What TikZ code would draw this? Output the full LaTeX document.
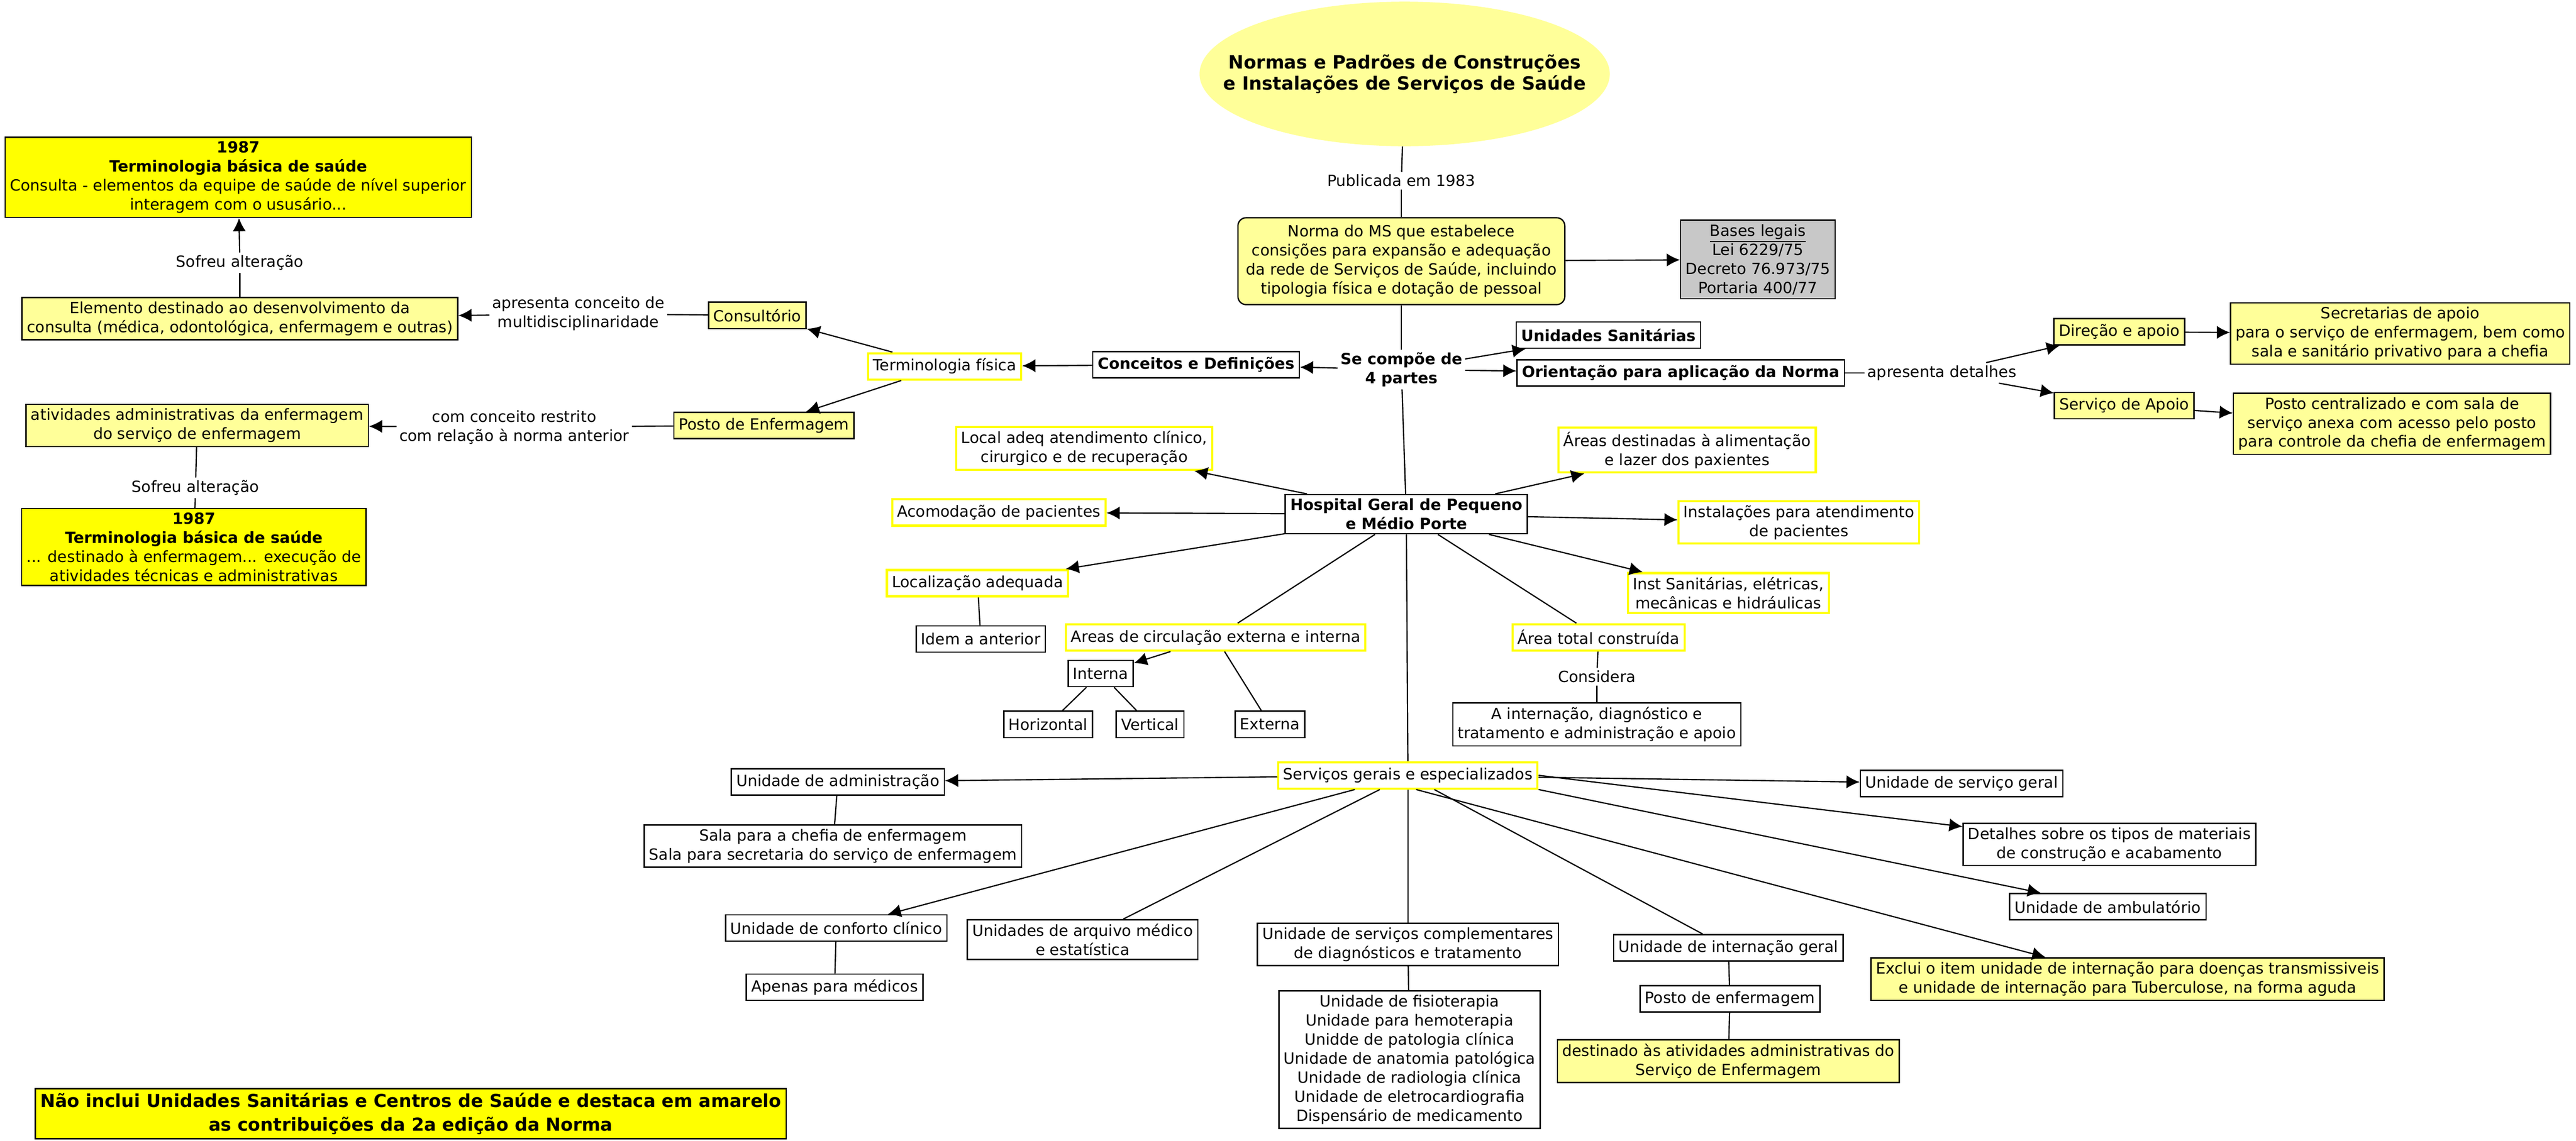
\documentclass[tikz,border=0pt]{standalone}
\usepackage{fontspec}
\setmainfont{DejaVu Sans}
\usetikzlibrary{arrows.meta,shapes.geometric}
\tikzset{>={Latex[width=8pt,length=8pt]}}
\definecolor{paleyellow}{RGB}{255,255,153}
\definecolor{hiyellow}{RGB}{255,255,0}
\definecolor{legalgray}{RGB}{200,200,200}
\newcommand\mapsize{\fontsize{9.4}{11.6}\selectfont}
\tikzset{
  concept/.style={draw=black,fill=white,line width=0.8pt,inner xsep=3pt,inner ysep=2.5pt,align=center,minimum height=16pt},
  pale/.style={concept,fill=paleyellow},
  hilite/.style={concept,fill=hiyellow},
  yframe/.style={concept,draw=hiyellow,line width=1.3pt},
  phrase/.style={fill=white,inner sep=1.5pt,align=center},
  link/.style={line width=0.75pt},
}

\begin{document}
\begin{tikzpicture}[x=1pt,y=-1pt,font=\mapsize]
		\useasboundingbox (0,0) rectangle (1568,694.5);
		% title and the norm itself
		\node[ellipse,fill=paleyellow,minimum width=240pt,minimum height=88pt,inner xsep=-22pt,inner ysep=0pt,align=center,font=\fontsize{11.1}{13}\selectfont\bfseries] (norms) at (855,45) {Normas e Padrões de Construções\\e Instalações de Serviços de Saúde};
		\node[phrase] (pub) at (853,110) {Publicada em 1983};
		\node[pale,rounded corners=5pt,inner xsep=5pt,inner ysep=4.5pt] (norma) at (853,159) {Norma do MS que estabelece\\consições para expansão e adequação\\da rede de Serviços de Saúde, incluindo\\tipologia física e dotação de pessoal};
		\node[concept,fill=legalgray] (bases) at (1070,158) {\underline{Bases legais}\\Lei 6229/75\\Decreto 76.973/75\\Portaria 400/77};
		% the 4 parts
		\node[phrase,font=\mapsize\bfseries] (parts) at (853,225) {Se compõe de\\4 partes};
		\node[concept,font=\mapsize\bfseries] (conc) at (728,222) {Conceitos e Definições};
		\node[concept,font=\mapsize\bfseries] (sanit) at (979,204) {Unidades Sanitárias};
		\node[concept,font=\mapsize\bfseries] (orient) at (1023,227) {Orientação para aplicação da Norma};
		\node[concept,font=\mapsize\bfseries] (hosp) at (856,313) {Hospital Geral de Pequeno\\e Médio Porte};
		% orientation details
		\node[phrase] (detal) at (1182,227) {apresenta detalhes};
		\node[pale] (direc) at (1290,202) {Direção e apoio};
		\node[pale] (secret) at (1461,203) {Secretarias de apoio\\para o serviço de enfermagem, bem como\\sala e sanitário privativo para a chefia};
		\node[pale] (servap) at (1293,247) {Serviço de Apoio};
		\node[pale] (postoc) at (1456,258) {Posto centralizado e com sala de\\serviço anexa com acesso pelo posto\\para controle da chefia de enfermagem};
		% physical terminology
		\node[yframe] (termf) at (575,223) {Terminologia física};
		\node[pale] (consult) at (461,192) {Consultório};
		\node[pale] (postoE) at (465,259) {Posto de Enfermagem};
		\node[phrase] (multi) at (352,191) {apresenta conceito de\\multidisciplinaridade};
		\node[pale] (elem) at (146,194) {Elemento destinado ao desenvolvimento da\\consulta (médica, odontológica, enfermagem e outras)};
		\node[phrase] (alt1) at (146,160) {Sofreu alteração};
		\node[hilite] (tb1) at (145,108) {\textbf{1987}\\\textbf{Terminologia básica de saúde}\\Consulta - elementos da equipe de saúde de nível superior\\interagem com o ususário...};
		\node[phrase] (restr) at (313,260) {com conceito restrito\\com relação à norma anterior};
		\node[pale] (ativ) at (120,259) {atividades administrativas da enfermagem\\do serviço de enfermagem};
		\node[phrase] (alt2) at (119,297) {Sofreu alteração};
		\node[hilite] (tb2) at (118,333) {\textbf{1987}\\\textbf{Terminologia básica de saúde}\\... destinado à enfermagem... execução de\\atividades técnicas e administrativas};
		% hospital items
		\node[yframe] (local) at (660,273) {Local adeq atendimento clínico,\\cirurgico e de recuperação};
		\node[yframe] (acomod) at (608,312) {Acomodação de pacientes};
		\node[yframe] (localiz) at (595,355) {Localização adequada};
		\node[concept] (idem) at (597,389) {Idem a anterior};
		\node[yframe] (circ) at (740,388) {Areas de circulação externa e interna};
		\node[concept] (interna) at (670,410) {Interna};
		\node[concept] (horiz) at (638,441) {Horizontal};
		\node[concept] (vert) at (700,441) {Vertical};
		\node[concept] (externa) at (773,441) {Externa};
		\node[yframe] (alim) at (1027,274) {Áreas destinadas à alimentação\\e lazer dos paxientes};
		\node[yframe] (instal) at (1095,318) {Instalações para atendimento\\de pacientes};
		\node[yframe] (instsan) at (1052,361) {Inst Sanitárias, elétricas,\\mecânicas e hidráulicas};
		\node[yframe] (areat) at (973,388) {Área total construída};
		\node[phrase] (consid) at (972,412) {Considera};
		\node[concept] (intern) at (972,441) {A internação, diagnóstico e\\tratamento e administração e apoio};
		% general and specialized services
		\node[yframe] (serv) at (857,472) {Serviços gerais e especializados};
		\node[concept] (adm) at (510,476) {Unidade de administração};
		\node[concept] (salas) at (507,515) {Sala para a chefia de enfermagem\\Sala para secretaria do serviço de enfermagem};
		\node[concept] (confort) at (509,565) {Unidade de conforto clínico};
		\node[concept] (medicos) at (508,601) {Apenas para médicos};
		\node[concept] (arquivo) at (659,572) {Unidades de arquivo médico\\e estatística};
		\node[concept] (compl) at (857,575) {Unidade de serviços complementares\\de diagnósticos e tratamento};
		\node[concept] (lista) at (858,645) {Unidade de fisioterapia\\Unidade para hemoterapia\\Unidde de patologia clínica\\Unidade de anatomia patológica\\Unidade de radiologia clínica\\Unidade de eletrocardiografia\\Dispensário de medicamento};
		\node[concept] (ingeral) at (1052,577) {Unidade de internação geral};
		\node[concept] (postoe) at (1053,608) {Posto de enfermagem};
		\node[pale] (destin) at (1052,646) {destinado às atividades administrativas do\\Serviço de Enfermagem};
		\node[concept] (sgeral) at (1194,477) {Unidade de serviço geral};
		\node[concept] (mater) at (1284,514) {Detalhes sobre os tipos de materiais\\de construção e acabamento};
		\node[concept] (ambul) at (1283,552) {Unidade de ambulatório};
		\node[pale] (exclui) at (1295,596) {Exclui o item unidade de internação para doenças transmissiveis\\e unidade de internação para Tuberculose, na forma aguda};
		% note
		\node[hilite,font=\fontsize{10.9}{14.5}\selectfont\bfseries] (nota) at (250,678) {Não inclui Unidades Sanitárias e Centros de Saúde e destaca em amarelo\\as contribuições da 2a edição da Norma};

		% connectors: top part
		\draw[link] (norms) -- (pub);
		\draw[link] (pub) -- (norma);
		\draw[link,->] (norma) -- (bases);
		\draw[link] (norma) -- (parts);
		\draw[link,->] (parts) -- (conc);
		\draw[link,->] (parts) -- (sanit);
		\draw[link,->] (parts) -- (orient);
		\draw[link] (parts) -- (hosp);
		\draw[link] (orient) -- (detal);
		\draw[link,->] (detal) -- (direc);
		\draw[link,->] (detal) -- (servap);
		\draw[link,->] (direc) -- (secret);
		\draw[link,->] (servap) -- (postoc);
		% connectors: terminology
		\draw[link,->] (conc) -- (termf);
		\draw[link,->] (termf) -- (consult);
		\draw[link,->] (termf) -- (postoE);
		\draw[link] (consult) -- (multi);
		\draw[link,->] (multi) -- (elem);
		\draw[link] (elem) -- (alt1);
		\draw[link,->] (alt1) -- (tb1);
		\draw[link] (postoE) -- (restr);
		\draw[link,->] (restr) -- (ativ);
		\draw[link] (ativ) -- (alt2);
		\draw[link] (alt2) -- (tb2);
		% connectors: hospital
		\draw[link,->] (hosp) -- (local);
		\draw[link,->] (hosp) -- (acomod);
		\draw[link,->] (hosp) -- (localiz);
		\draw[link] (localiz) -- (idem);
		\draw[link] (hosp) -- (circ);
		\draw[link,->] (circ) -- (interna);
		\draw[link] (interna) -- (horiz);
		\draw[link] (interna) -- (vert);
		\draw[link] (circ) -- (externa);
		\draw[link,->] (hosp) -- (alim);
		\draw[link,->] (hosp) -- (instal);
		\draw[link,->] (hosp) -- (instsan);
		\draw[link] (hosp) -- (areat);
		\draw[link] (areat) -- (consid);
		\draw[link] (consid) -- (intern);
		\draw[link] (hosp) -- (serv);
		% connectors: services
		\draw[link,->] (serv) -- (adm);
		\draw[link] (adm) -- (salas);
		\draw[link,->] (serv) -- (confort);
		\draw[link] (confort) -- (medicos);
		\draw[link] (serv) -- (arquivo);
		\draw[link] (serv) -- (compl);
		\draw[link] (compl) -- (lista);
		\draw[link] (serv) -- (ingeral);
		\draw[link] (ingeral) -- (postoe);
		\draw[link] (postoe) -- (destin);
		\draw[link,->] (serv) -- (sgeral);
		\draw[link,->] (serv.east) -- (mater);
		\draw[link,->] (serv.south east) -- (ambul);
		\draw[link,->] (serv.-60) -- (exclui);
	\end{tikzpicture}
\end{document}
